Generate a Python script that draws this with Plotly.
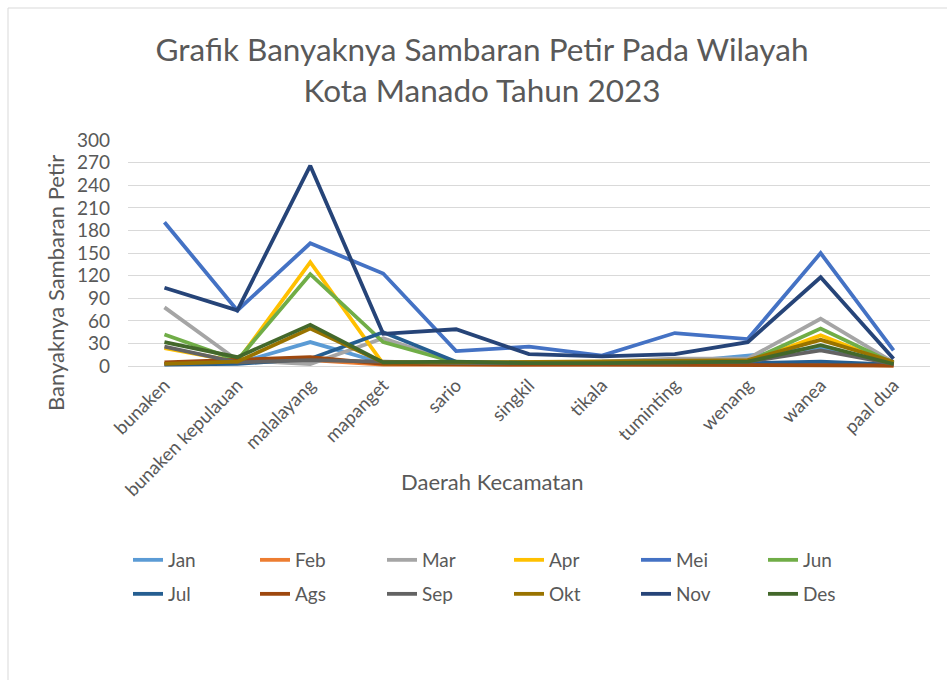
import plotly.graph_objects as go

regions = ["bunaken", "bunaken kepulauan", "malalayang", "mapanget", "sario", "singkil",
           "tikala", "tuminting", "wenang", "wanea", "paal dua"]

months = ["Jan", "Feb", "Mar", "Apr", "Mei", "Jun", "Jul", "Ags", "Sep", "Okt", "Nov", "Des"]

jan = [3, 4, 32, 4, 3, 3, 3, 5, 14, 25, 3]
feb = [3, 5, 8, 2, 2, 2, 2, 2, 2, 3, 1]
mar = [78, 8, 3, 37, 5, 6, 6, 10, 10, 63, 5]
apr = [24, 6, 138, 3, 3, 3, 3, 4, 5, 41, 3]
mei = [191, 74, 163, 123, 20, 26, 14, 44, 36, 150, 21]
jun = [42, 8, 122, 32, 5, 4, 4, 5, 6, 50, 4]
jul = [2, 3, 10, 45, 6, 3, 3, 3, 4, 6, 2]
ags = [5, 8, 12, 3, 2, 2, 2, 2, 2, 2, 1]
sep = [26, 5, 8, 6, 4, 4, 4, 5, 6, 21, 3]
okt = [3, 6, 50, 5, 5, 6, 6, 7, 8, 35, 6]
nov = [104, 74, 266, 43, 49, 16, 13, 16, 32, 118, 10]
des = [32, 12, 55, 5, 6, 4, 4, 5, 6, 28, 3]

series = [jan, feb, mar, apr, mei, jun, jul, ags, sep, okt, nov, des]
colors = ["#5B9BD5", "#ED7D31", "#A5A5A5", "#FFC000", "#4472C4", "#70AD47",
          "#255E91", "#9E480E", "#636363", "#997300", "#264478", "#43682B"]

y_ticks = [0, 30, 60, 90, 120, 150, 180, 210, 240, 270, 300]

FONT = "Lato"
TXT = "#595959"

L, R, T, B = 128, 17, 140, 310
PW = 947 - L - R
PH = 680 - T - B

def px_x(p):
    return (p - L) / PW

def px_y(p):
    return (680 - B - p) / PH

fig = go.Figure()
for i, (name, vals, col) in enumerate(zip(months, series, colors)):
    fig.add_trace(go.Scatter(x=regions, y=vals, name=name, mode="lines",
                             line=dict(color=col, width=3.8),
                             legend="legend" if i < 6 else "legend2"))

leg_common = dict(orientation="h", xanchor="left", yanchor="middle",
                  entrywidth=82, entrywidthmode="pixels",
                  font=dict(family=FONT, size=19, color=TXT), bgcolor="rgba(0,0,0,0)")

fig.update_layout(
    width=947, height=680,
    paper_bgcolor="white", plot_bgcolor="white",
    font=dict(family=FONT, color=TXT, size=19),
    margin=dict(l=L, r=R, t=T, b=B, autoexpand=False),
    title=dict(text="Grafik Banyaknya Sambaran Petir Pada Wilayah<br>Kota Manado Tahun 2023",
               x=0.509, xref="container", xanchor="center",
               y=1 - 61 / 680, yref="container", yanchor="middle",
               font=dict(family=FONT, size=31.5, color=TXT)),
    showlegend=True,
    legend=dict(x=px_x(128), y=px_y(560), **leg_common),
    legend2=dict(x=px_x(128), y=px_y(594), **leg_common),
    xaxis=dict(range=[-0.5, 10.5], tickangle=-45, showgrid=False, showline=False, ticks="",
               automargin=False,
               tickfont=dict(family=FONT, size=18.5, color=TXT)),
    yaxis=dict(range=[-5, 300], tickvals=y_ticks, ticktext=[str(v) for v in y_ticks],
               showgrid=True, gridcolor="#D9D9D9", gridwidth=1, zeroline=False,
               showline=False, ticks="", ticklabelstandoff=17, automargin=False,
               tickfont=dict(family=FONT, size=19, color=TXT)),
)

fig.add_annotation(text="Daerah Kecamatan", xref="paper", yref="paper",
                   x=px_x(492), y=px_y(481), xanchor="center", yanchor="middle",
                   showarrow=False, font=dict(family=FONT, size=22, color=TXT))
fig.add_annotation(text="Banyaknya Sambaran Petir", xref="paper", yref="paper",
                   x=px_x(55), y=px_y(283), xanchor="center", yanchor="middle",
                   textangle=-90, showarrow=False, font=dict(family=FONT, size=22, color=TXT))

# chart border (left and top)
fig.add_shape(type="line", xref="paper", yref="paper",
              x0=px_x(8), x1=px_x(947), y0=px_y(8), y1=px_y(8),
              line=dict(color="#D9D9D9", width=1))
fig.add_shape(type="line", xref="paper", yref="paper",
              x0=px_x(8), x1=px_x(8), y0=px_y(8), y1=px_y(700),
              line=dict(color="#D9D9D9", width=1))

fig.write_html("out.html", config={"displayModeBar": False},
               post_script="document.body.style.margin='0px';document.body.style.overflow='hidden';")
